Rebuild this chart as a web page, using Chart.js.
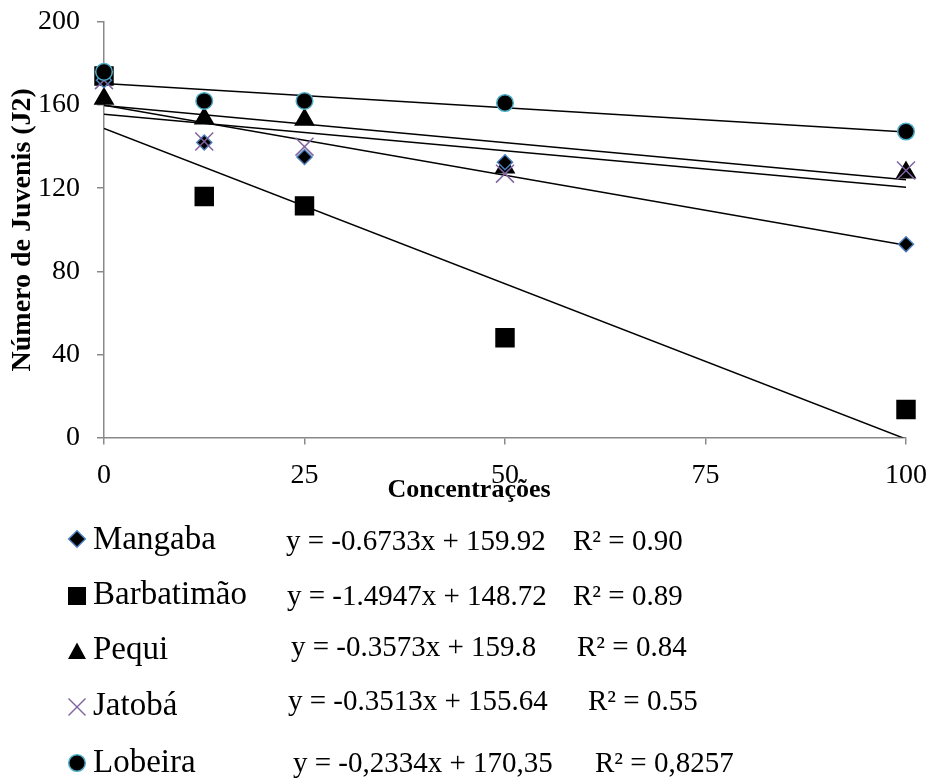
<!DOCTYPE html>
<html>
<head>
<meta charset="utf-8">
<script src="https://cdn.jsdelivr.net/npm/chart.js@4.4.0/dist/chart.umd.min.js"></script>
<style>
    body { margin: 0; background: #fff; }
    #wrap { position: relative; width: 932px; height: 780px; font-family: "Liberation Serif", "Times New Roman", serif; color: #000; }
    #wrap canvas { position: absolute; left: 0; top: 0; }
    .t { position: absolute; white-space: nowrap; line-height: 1; }
    .mk { position: absolute; width: 20px; height: 20px; }
</style>
</head>
<body>
<div id="wrap">
    <canvas id="chart" width="932" height="780"></canvas>
    <div class="t" id="xtitle" style="left:319px; top:476px; width:300px; text-align:center; font-size:26px; font-weight:bold;">Concentrações</div>
    <div id="legend"></div>
</div>
<script>
// Dados
var concentrations = [0, 12.5, 25, 50, 100];
var names = ['Mangaba', 'Barbatimão', 'Pequi', 'Jatobá', 'Lobeira'];
var mangaba = [172, 142, 135, 132.5, 93];
var barbatimao = [174, 116, 111.5, 48, 13.5];
var pequi = [163, 153.5, 153, 130, 127.5];
var jatoba = [172, 142.5, 140, 127, 128.5];
var lobeira = [176, 162, 162, 161, 147.3];
var seriesValues = [mangaba, barbatimao, pequi, jatoba, lobeira];

// Linhas de tendência (equações do gráfico)
var slopes = [-0.6733, -1.4947, -0.3573, -0.3513, -0.2334];
var intercepts = [159.92, 148.72, 159.8, 155.64, 170.35];
var eqLabels = ['y = -0.6733x + 159.92', 'y = -1.4947x + 148.72', 'y = -0.3573x + 159.8', 'y = -0.3513x + 155.64', 'y = -0,2334x + 170,35'];
var r2Labels = ['R² = 0.90', 'R² = 0.89', 'R² = 0.84', 'R² = 0.55', 'R² = 0,8257'];

var xTicks = [0, 25, 50, 75, 100];
var yTicks = [0, 40, 80, 120, 160, 200];

var FONT = '"Liberation Serif", "Times New Roman", serif';
var AXIS = '#898989';

// Estilo dos marcadores
var styles = ['rectRot', 'rect', 'triangle', 'crossRot', 'circle'];
var radii = [7.5, 12.7, 10.5, 12.7, 8.3];
var fills = ['#000', '#000', '#000', 'rgba(0,0,0,0)', '#000'];
var borders = ['#4A7EBB', '#000', '#000', '#8064A2', '#4BACC6'];
var orders = [3, 4, 5, 2, 1];

var datasets = [];
names.forEach(function (name, i) {
    datasets.push({
        label: name,
        data: concentrations.map(function (x, j) { return { x: x, y: seriesValues[i][j] }; }),
        pointStyle: styles[i],
        pointRadius: radii[i],
        pointHoverRadius: radii[i],
        backgroundColor: fills[i],
        borderColor: borders[i],
        borderWidth: 1.5,
        clip: false,
        order: orders[i]
    });
});
names.forEach(function (name, i) {
    datasets.push({
        label: name + ' (tendência)',
        data: [{ x: 0, y: intercepts[i] }, { x: 100, y: intercepts[i] + slopes[i] * 100 }],
        showLine: true,
        pointRadius: 0,
        borderColor: '#000',
        borderWidth: 1.5,
        order: 10
    });
});

var ctx = document.getElementById('chart').getContext('2d');
var chart = new Chart(ctx, {
    type: 'scatter',
    data: { datasets: datasets },
    options: {
        responsive: false,
        animation: false,
        layout: { padding: { left: 0, right: 26, top: 22, bottom: 282.5 } },
        plugins: { legend: { display: false }, tooltip: { enabled: false } },
        scales: {
            x: {
                type: 'linear',
                min: 0,
                max: 100,
                afterBuildTicks: function (s) { s.ticks = xTicks.map(function (v) { return { value: v }; }); },
                ticks: { font: { family: FONT, size: 28 }, color: '#000', padding: 14, maxRotation: 0 },
                grid: { drawOnChartArea: false, tickLength: 7, color: AXIS, lineWidth: 1.5 },
                border: { color: AXIS, width: 1.5 },
                afterFit: function (s) {
                    s.height = 60;
                    s.paddingLeft = 5;
                    s.paddingRight = 5;
                }
            },
            y: {
                min: 0,
                max: 200,
                afterBuildTicks: function (s) { s.ticks = yTicks.map(function (v) { return { value: v }; }); },
                ticks: { font: { family: FONT, size: 28 }, color: '#000', padding: 17 },
                grid: { drawOnChartArea: false, tickLength: 7, color: AXIS, lineWidth: 1.5 },
                border: { color: AXIS, width: 1.5 },
                title: {
                    display: true,
                    text: 'Número de Juvenis (J2)',
                    font: { family: FONT, size: 28, weight: 'bold' },
                    color: '#000',
                    padding: { top: 6, bottom: 0 }
                },
                afterFit: function (s) {
                    s.width = 104;
                    s.paddingTop = 10;
                    s.paddingBottom = 10;
                }
            }
        }
    }
});

// Legenda com equações
var markerSvg = {
    rectRot: '<polygon points="10,1.7 18.3,10 10,18.3 1.7,10" fill="#000" stroke="#4A7EBB" stroke-width="1.5"/>',
    rect: '<rect x="1" y="1" width="18" height="18" fill="#000"/>',
    triangle: '<polygon points="10,1.5 19,18 1,18" fill="#000"/>',
    crossRot: '<line x1="1.5" y1="1.5" x2="18.5" y2="18.5" stroke="#8064A2" stroke-width="1.5"/><line x1="18.5" y1="1.5" x2="1.5" y2="18.5" stroke="#8064A2" stroke-width="1.5"/>',
    circle: '<circle cx="10" cy="10" r="8.3" fill="#000" stroke="#4BACC6" stroke-width="1.5"/>'
};
var rowCenter = [539, 596, 651, 707, 763];
var nameBase = [550, 605, 660, 716, 773];
var eqBase = [550, 605, 656, 710, 772];
var eqX = [286, 287, 291, 288, 293];
var r2X = [573, 573, 577, 588, 595];

var legend = document.getElementById('legend');
var html = '';
names.forEach(function (name, i) {
    html += '<svg class="mk" style="left:' + (77 - 10) + 'px; top:' + (rowCenter[i] - 10) + 'px;" viewBox="0 0 20 20">' + markerSvg[styles[i]] + '</svg>';
    html += '<div class="t" style="left:93px; top:' + (nameBase[i] - 0.8375 * 33) + 'px; font-size:33px;">' + name + '</div>';
    html += '<div class="t" style="left:' + eqX[i] + 'px; top:' + (eqBase[i] - 0.8375 * 29) + 'px; font-size:29px;">' + eqLabels[i] + '</div>';
    html += '<div class="t" style="left:' + r2X[i] + 'px; top:' + (eqBase[i] - 0.8375 * 29) + 'px; font-size:29px;">' + r2Labels[i] + '</div>';
});
legend.innerHTML = html;
</script>
</body>
</html>
